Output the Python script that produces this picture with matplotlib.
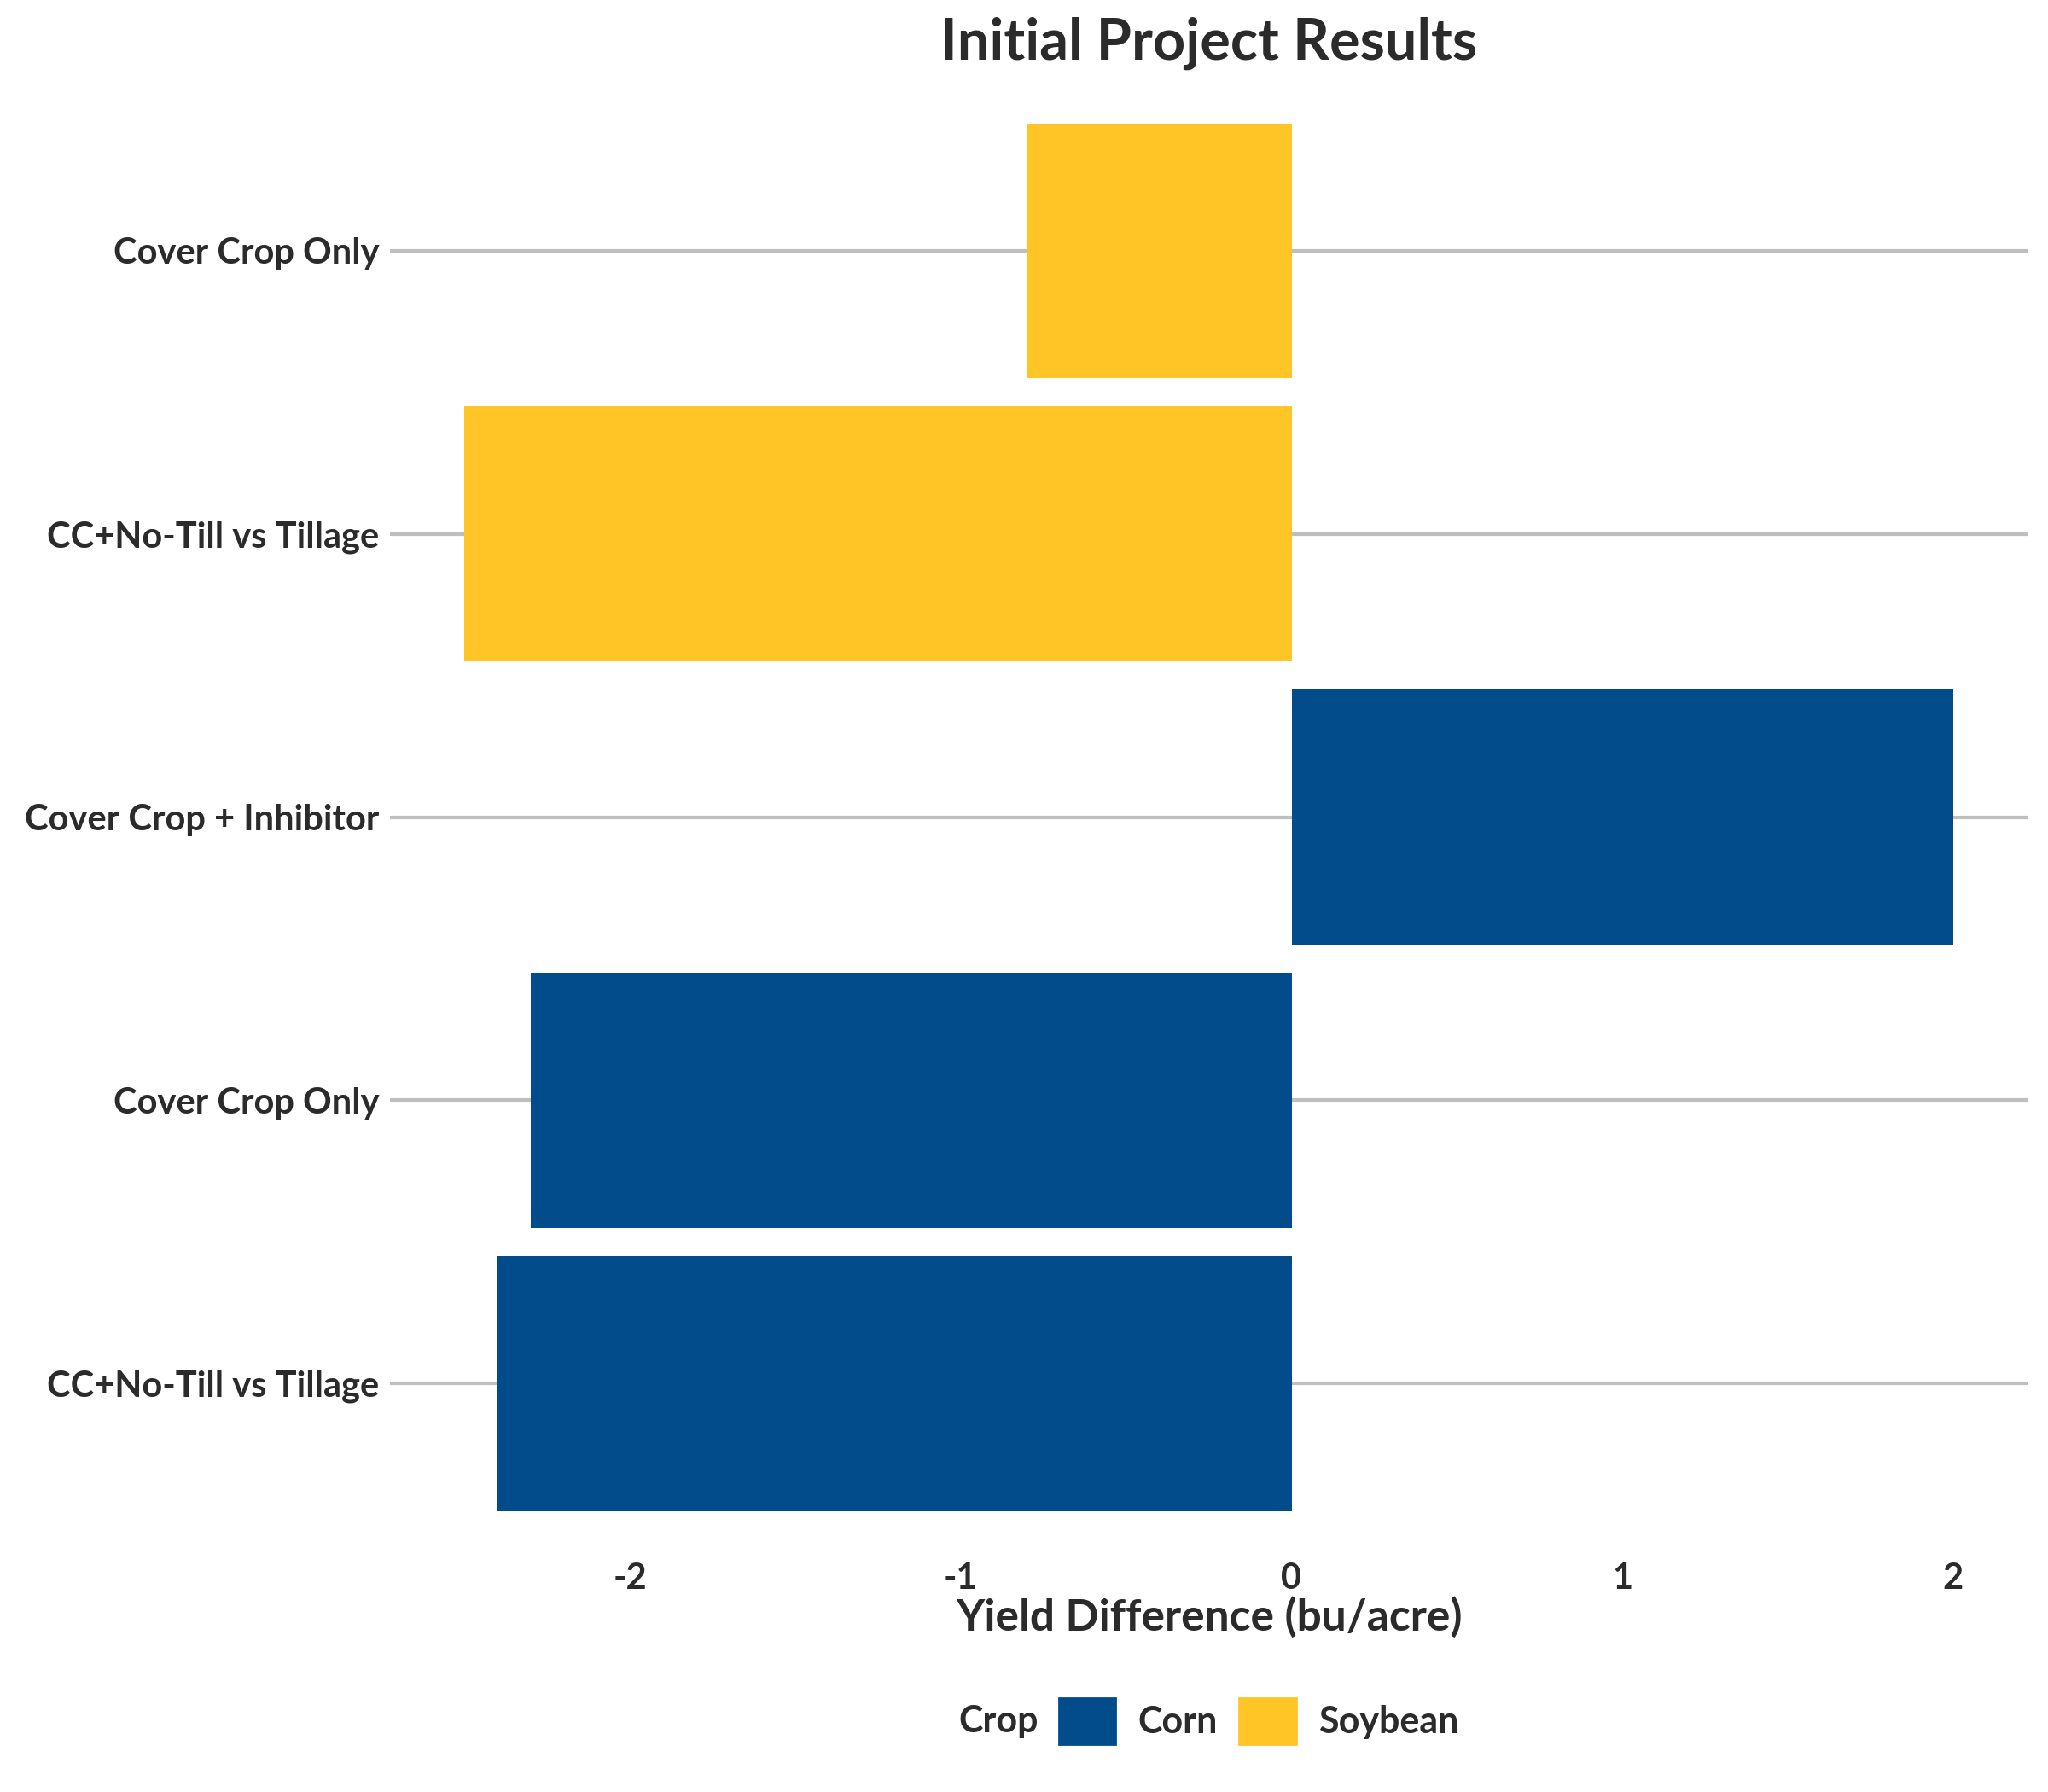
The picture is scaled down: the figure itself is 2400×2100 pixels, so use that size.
import numpy as np
import matplotlib.pyplot as plt
from matplotlib.patches import Patch

plt.rcParams['font.family'] = ['Lato', 'DejaVu Sans']
plt.rcParams['font.weight'] = 'bold'

# data, bottom to top as drawn
labels = ['CC+No-Till vs Tillage', 'Cover Crop Only', 'Cover Crop + Inhibitor',
          'CC+No-Till vs Tillage', 'Cover Crop Only']
crop = ['Corn', 'Corn', 'Corn', 'Soybean', 'Soybean']
diff = [-2.4, -2.3, 2.0, -2.5, -0.8]

colors = {'Corn': '#034C8C', 'Soybean': '#FFC425'}
txt = '#2B2B2B'

fig = plt.figure(figsize=(12, 10.5), dpi=200)
ax = fig.add_axes([0.1905, 0.1332, 0.7995, 0.8216])

pos = np.arange(1, len(diff) + 1)
ax.barh(pos, diff, height=0.9, color=[colors[c] for c in crop], zorder=2)

rng = max(diff) - min(diff)
ax.set_xlim(min(diff) - 0.05 * rng, max(diff) + 0.05 * rng)
ax.set_ylim(0.4, len(diff) + 0.6)

ax.set_yticks(pos)
ax.set_yticklabels(labels)
ax.set_xticks([-2, -1, 0, 1, 2])
ax.set_xticklabels(['-2', '-1', '0', '1', '2'])
ax.tick_params(length=0, labelsize=15, labelcolor=txt)
ax.tick_params(axis='y', pad=4.5)
ax.tick_params(axis='x', pad=4)
for s in ax.spines.values():
    s.set_visible(False)
ax.grid(axis='y', color='#BEBEBE', linewidth=1.5, zorder=1)
ax.grid(axis='x', visible=False)

ax.set_xlabel('Yield Difference (bu/acre)', fontsize=18.5, color=txt,
              labelpad=0.5, fontweight='bold')
ax.set_title('Initial Project Results', fontsize=24, color=txt, pad=9, fontweight='bold')

fig.text(0.4876, 0.0396, 'Crop', fontsize=15.5, color=txt, ha='center', va='center',
         fontweight='bold')
handles = [Patch(color=colors[k]) for k in ['Corn', 'Soybean']]
leg = fig.legend(handles, ['Corn', 'Soybean'], loc='center', bbox_to_anchor=(0.6146, 0.0396),
                 ncol=2, frameon=False, fontsize=15.5, handlelength=1.55, handleheight=1.55,
                 columnspacing=0.6, handletextpad=0.6, borderpad=0, borderaxespad=0)
for t in leg.get_texts():
    t.set_color(txt)

fig.savefig('out.png', dpi=200)
